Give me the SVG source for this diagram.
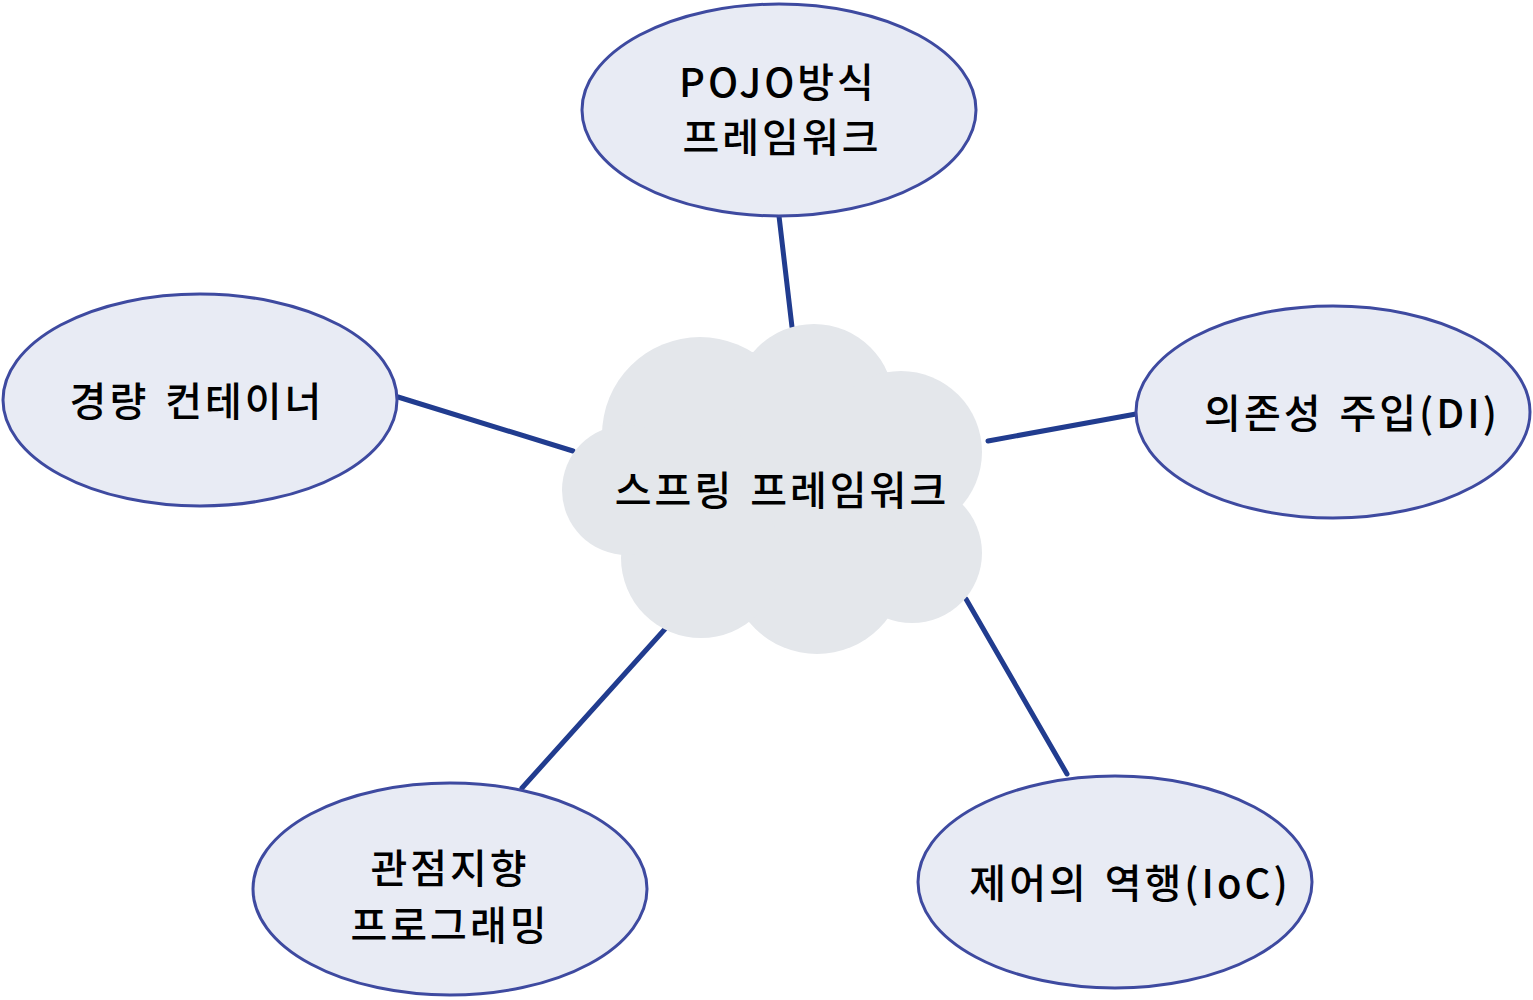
<svg xmlns="http://www.w3.org/2000/svg" width="1533" height="1000" viewBox="0 0 1533 1000">
<style>
.node ellipse{fill:#e8ebf4;stroke:#3e4aa0;stroke-width:3}
.lbl{font-family:"Noto Sans CJK KR","Noto Sans",sans-serif;font-size:40px;font-weight:500;fill:#000;text-anchor:middle;letter-spacing:3px;word-spacing:4px}
.conn line{stroke:#213c8f;stroke-width:5;stroke-linecap:round}
.cloud{fill:#e4e7eb}
</style>
<rect width="1533" height="1000" fill="#fff"/>
<g id="connectors" class="conn">
<line x1="779" y1="216" x2="792" y2="327"/>
<line x1="398" y1="397" x2="573" y2="451"/>
<line x1="988" y1="441" x2="1136" y2="414"/>
<line x1="665" y1="629" x2="522" y2="788"/>
<line x1="966" y1="599" x2="1067" y2="774"/>
</g>
<g id="center">
<g class="cloud">
<polygon points="603,429 700,440 752,352 887,372 962,505 887,618 750,622 622,552"/>
<circle cx="700" cy="435" r="98"/>
<circle cx="814" cy="404" r="80"/>
<circle cx="901" cy="452" r="81"/>
<circle cx="912" cy="553" r="70"/>
<circle cx="817" cy="566" r="88"/>
<circle cx="701" cy="558" r="80"/>
<circle cx="627" cy="490" r="65"/>
</g>
<text class="lbl" x="782" y="505">스프링 프레임워크</text>
</g>
<g id="pojo" class="node">
<ellipse cx="779" cy="110" rx="197" ry="106"/>
<text class="lbl" x="778" y="97">POJO방식</text>
<text class="lbl" x="782" y="152">프레임워크</text>
</g>
<g id="lightweight" class="node">
<ellipse cx="200" cy="400" rx="197" ry="106"/>
<text class="lbl" x="197" y="416">경량 컨테이너</text>
</g>
<g id="di" class="node">
<ellipse cx="1333" cy="412" rx="197" ry="106"/>
<text class="lbl" x="1352" y="428">의존성 주입(DI)</text>
</g>
<g id="aop" class="node">
<ellipse cx="450" cy="889" rx="197" ry="106"/>
<text class="lbl" x="450" y="883">관점지향</text>
<text class="lbl" x="450" y="940">프로그래밍</text>
</g>
<g id="ioc" class="node">
<ellipse cx="1115" cy="882" rx="197" ry="106"/>
<text class="lbl" x="1130" y="898">제어의 역행(IoC)</text>
</g>
</svg>
